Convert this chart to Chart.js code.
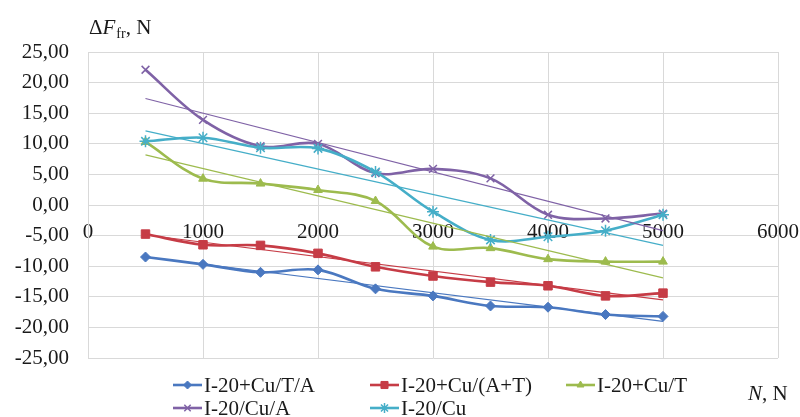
<!DOCTYPE html>
<html>
<head>
<meta charset="utf-8">
<script src="https://cdn.jsdelivr.net/npm/chart.js@4/dist/chart.umd.min.js"></script>
<style>
html,body{margin:0;padding:0;background:#fff;}
#wrap{width:800px;height:417px;position:relative;}
</style>
</head>
<body>
<div id="wrap"><canvas id="c" width="800" height="417"></canvas></div>
<script>
// ---- data ----
const loads = [500, 1000, 1500, 2000, 2500, 3000, 3500, 4000, 4500, 5000];
const seriesNames = ['I-20+Cu/T/A', 'I-20+Cu/(A+T)', 'I-20+Cu/T', 'I-20/Cu/A', 'I-20/Cu'];
const valsCuTA = [-8.5, -9.7, -11.0, -10.6, -13.7, -14.85, -16.5, -16.7, -17.9, -18.2];
const valsCuAT = [-4.75, -6.5, -6.6, -7.9, -10.1, -11.6, -12.6, -13.2, -14.85, -14.4];
const valsCuT  = [10.3, 4.3, 3.5, 2.45, 0.65, -6.8, -7.05, -8.85, -9.25, -9.25];
const valsCuA  = [22.1, 13.9, 9.6, 10.0, 5.2, 5.9, 4.35, -1.6, -2.2, -1.4];
const valsCu   = [10.4, 11.0, 9.35, 9.25, 5.4, -1.1, -5.7, -5.2, -4.2, -1.6];
const trendLoads = [500, 5000];
const trendStart = [-8.5, -4.9, 8.2, 17.4, 12.1];
const trendEnd   = [-19.0, -15.5, -11.9, -4.2, -6.6];
const xTickValues = [0, 1000, 2000, 3000, 4000, 5000, 6000];
const yTickValues = [-25, -20, -15, -10, -5, 0, 5, 10, 15, 20, 25];
const yAxisTitle = ['\u0394', 'F', 'fr', ', N'];
const xAxisTitle = ['N', ', N'];

// ---- styles ----
const allVals = [valsCuTA, valsCuAT, valsCuT, valsCuA, valsCu];
const colors = ['#4a78c0', '#c63c46', '#9dbb4e', '#7f62a6', '#45aec8'];
const pointStyles = ['rectRot', 'rect', 'triangle', 'crossRot', 'star'];
const pointRadii = [5, 6, 5, 5.5, 6];
const FONT = '"Liberation Serif", "Times New Roman", serif';

const datasets = [];
allVals.forEach((vals, i) => {
  datasets.push({
    label: seriesNames[i],
    data: loads.map((x, k) => ({x: x, y: vals[k]})),
    borderColor: colors[i],
    backgroundColor: colors[i],
    borderWidth: 2.6,
    pointStyle: pointStyles[i],
    pointRadius: pointRadii[i],
    pointBorderWidth: (i >= 3) ? 1.5 : 1,
    pointBorderColor: colors[i],
    pointBackgroundColor: colors[i],
    tension: 0.35,
    order: 10 + (4 - i)
  });
});
allVals.forEach((vals, i) => {
  datasets.push({
    label: seriesNames[i] + ' trend',
    data: [{x: trendLoads[0], y: trendStart[i]}, {x: trendLoads[1], y: trendEnd[i]}],
    borderColor: colors[i],
    borderWidth: 1.2,
    pointRadius: 0,
    tension: 0,
    order: 4 - i
  });
});

const extras = {
  id: 'extras',
  afterDraw(chart) {
    const ctx = chart.ctx;
    ctx.save();
    ctx.fillStyle = '#1a1a1a';
    ctx.textBaseline = 'alphabetic';
    ctx.textAlign = 'left';
    // y axis title
    let x = 89, y = 34;
    ctx.font = '21px ' + FONT;
    ctx.fillText(yAxisTitle[0], x, y); x += ctx.measureText(yAxisTitle[0]).width;
    ctx.font = 'italic 21px ' + FONT;
    ctx.fillText(yAxisTitle[1], x, y); x += ctx.measureText(yAxisTitle[1]).width + 1;
    ctx.font = '14px ' + FONT;
    ctx.fillText(yAxisTitle[2], x, y + 4); x += ctx.measureText(yAxisTitle[2]).width;
    ctx.font = '21px ' + FONT;
    ctx.fillText(yAxisTitle[3], x, y);
    // x axis title
    x = 748; y = 400;
    ctx.font = 'italic 21px ' + FONT;
    ctx.fillText(xAxisTitle[0], x, y); x += ctx.measureText(xAxisTitle[0]).width;
    ctx.font = '21px ' + FONT;
    ctx.fillText(xAxisTitle[1], x, y);
    // legend
    const cols = [173, 370, 566];
    const rows = [385, 408];
    const lineLen = 29;
    seriesNames.forEach((name, i) => {
      const cx = cols[i % 3], cy = rows[Math.floor(i / 3)];
      ctx.strokeStyle = colors[i];
      ctx.lineWidth = 2.6;
      ctx.beginPath(); ctx.moveTo(cx, cy); ctx.lineTo(cx + lineLen, cy); ctx.stroke();
      ctx.fillStyle = colors[i];
      ctx.lineWidth = (i >= 3) ? 1.5 : 1;
      Chart.helpers.drawPoint(ctx, {pointStyle: pointStyles[i], radius: pointRadii[i] - 1, rotation: 0, borderWidth: ctx.lineWidth}, cx + lineLen / 2, cy);
      ctx.fillStyle = '#1a1a1a';
      ctx.font = '21px ' + FONT;
      ctx.textBaseline = 'middle';
      ctx.fillText(name, cx + lineLen + 2, cy + 1);
    });
    ctx.restore();
  }
};

new Chart(document.getElementById('c'), {
  type: 'line',
  data: {datasets: datasets},
  options: {
    responsive: false,
    animation: false,
    events: [],
    layout: {padding: {left: 0, top: 52, right: 22, bottom: 59}},
    plugins: {legend: {display: false}, tooltip: {enabled: false}},
    scales: {
      x: {
        type: 'linear',
        min: 0, max: 6000,
        position: {y: 0},
        afterFit(s) { s.height = 0; s.paddingLeft = 0; s.paddingRight = 0; },
        afterBuildTicks(s) { s.ticks = xTickValues.map(v => ({value: v})); },
        grid: {color: '#d9d9d9', lineWidth: 1, drawTicks: false},
        border: {color: '#d9d9d9', width: 1},
        ticks: {padding: 15, color: '#1a1a1a', maxRotation: 0, autoSkip: false,
                font: {family: FONT, size: 21}, callback: v => String(v)}
      },
      y: {
        type: 'linear',
        min: -25, max: 25,
        afterFit(s) { s.width = 88; s.paddingTop = 0; s.paddingBottom = 0; },
        afterBuildTicks(s) { s.ticks = yTickValues.map(v => ({value: v})); },
        grid: {color: '#d9d9d9', lineWidth: 1, drawTicks: false},
        border: {color: '#d9d9d9', width: 1},
        ticks: {padding: 19, color: '#1a1a1a', font: {family: FONT, size: 21},
                callback: v => v.toFixed(2).replace('.', ',')}
      }
    }
  },
  plugins: [extras]
});
</script>
</body>
</html>
